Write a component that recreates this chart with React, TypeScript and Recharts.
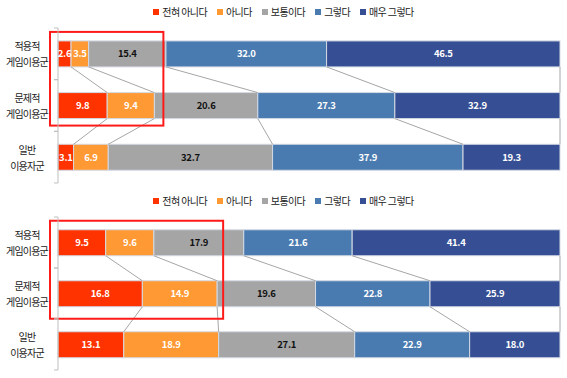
import { BarChart, Bar, XAxis, YAxis, LabelList } from 'recharts'

const categories = ['적용적\n게임이용군', '문제적\n게임이용군', '일반\n이용자군']
const seriesNames = ['전혀 아니다', '아니다', '보통이다', '그렇다', '매우 그렇다']
const seriesColors = ['#FF3300', '#FF9933', '#A5A5A5', '#4A7BB0', '#364F94']
const labelColors = ['#FFFFFF', '#FFFFFF', '#111111', '#FFFFFF', '#FFFFFF']

// 위 차트
const topStronglyNo = [2.6, 9.8, 3.1]
const topNo = [3.5, 9.4, 6.9]
const topNeutral = [15.4, 20.6, 32.7]
const topYes = [32.0, 27.3, 37.9]
const topStronglyYes = [46.5, 32.9, 19.3]

// 아래 차트
const bottomStronglyNo = [9.5, 16.8, 13.1]
const bottomNo = [9.6, 14.9, 18.9]
const bottomNeutral = [17.9, 19.6, 27.1]
const bottomYes = [21.6, 22.8, 22.9]
const bottomStronglyYes = [41.4, 25.9, 18.0]

const keys = ['s0', 's1', 's2', 's3', 's4']
const FONT = '"Noto Sans CJK KR", "Noto Sans", sans-serif'

const buildRows = (series: number[][]) =>
  categories.map((name, i) => {
    const row: any = { name }
    series.forEach((s, k) => { row[keys[k]] = s[i] })
    return row
  })

const topRows = buildRows([topStronglyNo, topNo, topNeutral, topYes, topStronglyYes])
const bottomRows = buildRows([bottomStronglyNo, bottomNo, bottomNeutral, bottomYes, bottomStronglyYes])

const CategoryTick = ({ x, y, payload }: any) => {
  const lines = String(payload.value).split('\n')
  const half = payload.offset ?? 0
  return (
    <g>
      {lines.map((t, i) => (
        <text key={i} x={x - 31} y={y + (i - (lines.length - 1) / 2) * 16} textAnchor="middle"
          dominantBaseline="central" fontSize={10} letterSpacing={-0.8} fontFamily={FONT} fill="#222">{t}</text>
      ))}
      {half > 0 && (
        <>
          <line x1={x - 4} x2={x} y1={y - half} y2={y - half} stroke="#BFBFBF" />
          <line x1={x - 4} x2={x} y1={y + half} y2={y + half} stroke="#BFBFBF" />
        </>
      )}
    </g>
  )
}

const Legend = () => (
  <div style={{ position: 'absolute', top: 4, left: 0, width: 567, display: 'flex', justifyContent: 'center',
    gap: 10, fontFamily: FONT, fontSize: 10, color: '#222', lineHeight: '16px' }}>
    {seriesNames.map((n, k) => (
      <div key={n} style={{ display: 'flex', alignItems: 'center' }}>
        <span style={{ width: 6, height: 6, background: seriesColors[k], marginRight: 3 }} />
        <span style={{ letterSpacing: -0.6 }}>{n}</span>
      </div>
    ))}
  </div>
)

interface ChartProps {
  rows: any[]
  boxPad: { left: number; top: number; right: number; bottom: number }
  marginBottom: number
}

function StackChart({ rows, boxPad, marginBottom }: ChartProps) {
  // 막대 위치를 모아두었다가 마지막 막대에서 계열선과 빨간 박스를 그림
  const geo: any[][] = keys.map(() => [])
  const last = keys.length - 1

  const makeShape = (k: number) => (props: any) => {
    const { x, y, width, height, index } = props
    geo[k][index] = { x, y, width, height }
    const extras: any[] = []
    if (k === last && index === rows.length - 1) {
      keys.forEach((_, s) => {
        for (let i = 0; i < rows.length - 1; i++) {
          const a = geo[s][i]
          const b = geo[s][i + 1]
          if (!a || !b) continue
          extras.push(
            <line key={`c${s}-${i}`} x1={a.x + a.width} y1={a.y + a.height} x2={b.x + b.width} y2={b.y}
              stroke="#A6A6A6" strokeWidth={1} />
          )
        }
      })
      const first = geo[0][0]
      const hi = geo[1][1]
      if (first && hi) {
        const l = first.x - boxPad.left
        const t = first.y - boxPad.top
        const r = hi.x + hi.width + boxPad.right
        const b = hi.y + hi.height + boxPad.bottom
        extras.push(<rect key="box" x={l} y={t} width={r - l} height={b - t} fill="none" stroke="#FF1A1A" strokeWidth={2} />)
      }
    }
    return (
      <g>
        <rect x={x} y={y} width={width} height={height} fill={seriesColors[k]} stroke="#D3D9E4" strokeWidth={1} />
        {extras}
      </g>
    )
  }

  return (
    <div style={{ position: 'relative', width: 567, height: 189 }}>
      <Legend />
      <BarChart width={567} height={189} data={rows} layout="vertical" stackOffset="expand"
        barCategoryGap="25%" margin={{ top: 28, right: 7, bottom: marginBottom, left: 0 }}>
        <XAxis type="number" hide domain={[0, 1]} />
        <YAxis type="category" dataKey="name" width={58} axisLine={{ stroke: '#BFBFBF' }} tickLine={false}
          tickSize={0} tickMargin={0} tick={<CategoryTick />} interval={0} />
        {keys.map((key, k) => (
          <Bar key={key} dataKey={key} name={seriesNames[k]} stackId="a" fill={seriesColors[k]}
            shape={makeShape(k)} isAnimationActive={false}>
            <LabelList dataKey={key} position="center" fill={labelColors[k]} fontSize={9.5} fontWeight={700}
              letterSpacing={-0.3} fontFamily={FONT} formatter={(v: any) => Number(v).toFixed(1)} />
          </Bar>
        ))}
      </BarChart>
    </div>
  )
}

export default function App() {
  return (
    <div style={{ position: 'absolute', left: 0, top: 0, width: 567, height: 378, background: '#fff' }}>
      <StackChart rows={topRows} boxPad={{ left: 8, top: 9, right: 9, bottom: 7 }} marginBottom={6} />
      <StackChart rows={bottomRows} boxPad={{ left: 8, top: 9, right: 6, bottom: 12 }} marginBottom={8} />
    </div>
  )
}
